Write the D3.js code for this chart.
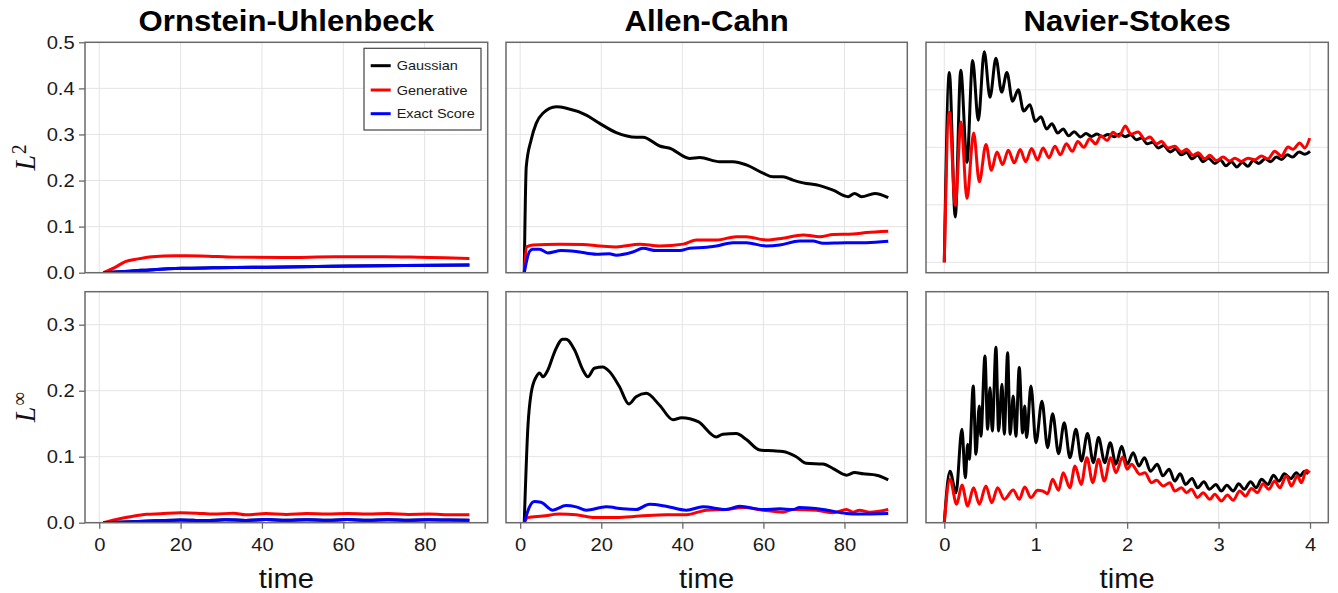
<!DOCTYPE html>
<html><head><meta charset="utf-8">
<script src="https://cdn.jsdelivr.net/npm/d3@7"></script>
<style>
html,body{margin:0;padding:0;background:#fff;}
svg{display:block;}
</style></head><body>
<svg id="chart" width="1338" height="593"></svg>
<script>
// ---------------- DATA ----------------
const columnTitles = ["Ornstein-Uhlenbeck", "Allen-Cahn", "Navier-Stokes"];
const seriesNames = ["Gaussian", "Generative", "Exact Score"];
const seriesColors = ["#000000", "#ff0000", "#0000ff"];
const timeTicksLong = [0, 20, 40, 60, 80];
const timeTicksNS = [0, 1, 2, 3, 4];
const yTicksL2 = [0, 0.1, 0.2, 0.3, 0.4, 0.5];
const yTicksNSL2 = [0, 0.1, 0.2, 0.3];
const yTicksLinf = [0, 0.1, 0.2, 0.3];

// Ornstein-Uhlenbeck, L2
const ouL2GaussT = [1, 5, 8.9, 14, 20.3, 28, 37.6, 50, 62, 75, 91];
const ouL2Gauss  = [0, 0.002, 0.0043, 0.0072, 0.0095, 0.0107, 0.0117, 0.013, 0.0145, 0.0155, 0.0167];
const ouL2GenT = [1, 3.9, 6.4, 9.5, 13, 18.7, 25, 33.5, 45, 58, 70, 78.6, 85, 91];
const ouL2Gen  = [0, 0.0117, 0.024, 0.030, 0.0347, 0.037, 0.0365, 0.0338, 0.033, 0.0345, 0.0345, 0.0335, 0.0325, 0.031];
const ouL2ExactT = [1, 5, 8.9, 14, 20.3, 28, 37.6, 50, 62, 75, 91];
const ouL2Exact  = [0, 0.002, 0.0043, 0.0072, 0.0095, 0.0107, 0.0117, 0.013, 0.0145, 0.0155, 0.0167];

// Ornstein-Uhlenbeck, Linf
const ouLiGaussT = [1, 8, 14, 20, 26, 31, 36, 41, 46, 51, 56, 61, 66, 71, 76, 81, 86, 91];
const ouLiGauss  = [0, 0.0015, 0.0028, 0.0041, 0.0032, 0.0045, 0.0035, 0.0047, 0.0036, 0.0046, 0.0037, 0.0047, 0.0037, 0.0045, 0.0038, 0.0043, 0.0040, 0.0038];
const ouLiGenT = [1, 5, 8, 11.7, 15, 20, 24, 28, 33, 36, 41, 46, 51, 56, 61, 66, 71, 76, 81, 87, 91];
const ouLiGen  = [0, 0.006, 0.0095, 0.0127, 0.0135, 0.015, 0.0145, 0.013, 0.0145, 0.012, 0.0138, 0.0126, 0.0138, 0.013, 0.014, 0.013, 0.014, 0.0126, 0.013, 0.012, 0.012];
const ouLiExactT = [1, 8, 14, 20, 26, 31, 36, 41, 46, 51, 56, 61, 66, 71, 76, 81, 86, 91];
const ouLiExact  = [0, 0.0015, 0.0028, 0.0041, 0.0032, 0.0045, 0.0035, 0.0047, 0.0036, 0.0046, 0.0037, 0.0047, 0.0037, 0.0045, 0.0038, 0.0043, 0.0040, 0.0038];

// Allen-Cahn, L2
const acL2GaussT = [1, 1.5, 2.7, 3.95, 5.6, 8.9, 11.4, 16.3, 19.6, 23.7, 28.6, 30.3, 34.4, 36.9, 41.8, 44.3, 49.2, 52.5, 55.8, 59.9, 62.4, 64.8, 67.3, 69.8, 73.9, 77.2, 80.9, 82.5, 84.2, 87.5, 90.8];
const acL2Gauss  = [0, 0.23, 0.288, 0.324, 0.346, 0.360, 0.357, 0.342, 0.324, 0.304, 0.294, 0.294, 0.275, 0.270, 0.248, 0.250, 0.241, 0.241, 0.234, 0.216, 0.208, 0.208, 0.201, 0.195, 0.189, 0.179, 0.165, 0.172, 0.165, 0.172, 0.163];
const acL2GenT = [1, 1.6, 3.1, 9.7, 15.5, 19.6, 23.7, 29.5, 34.4, 40.2, 43.5, 48.4, 53.3, 55.8, 60.7, 64.8, 69.8, 73.9, 77.2, 82.1, 85.4, 90.8];
const acL2Gen  = [0, 0.056, 0.060, 0.062, 0.061, 0.058, 0.056, 0.062, 0.058, 0.062, 0.071, 0.071, 0.078, 0.078, 0.071, 0.075, 0.082, 0.078, 0.083, 0.084, 0.087, 0.090];
const acL2ExactT = [1, 2.3, 3.1, 4.8, 6.8, 10.1, 13.8, 18.8, 22, 23.7, 27.8, 30.3, 33.6, 39.4, 41.8, 46, 48.4, 52.5, 55.8, 60.7, 64, 68.9, 72.2, 74.7, 80.4, 85.4, 90.8];
const acL2Exact  = [0, 0.046, 0.051, 0.051, 0.043, 0.048, 0.046, 0.040, 0.041, 0.038, 0.045, 0.053, 0.048, 0.048, 0.053, 0.055, 0.058, 0.065, 0.065, 0.058, 0.060, 0.069, 0.069, 0.064, 0.065, 0.065, 0.068];

// Allen-Cahn, Linf
const acLiGaussT = [1, 1.9, 2.7, 3.95, 4.8, 5.6, 6.8, 8.5, 10.5, 11.3, 13.4, 15.5, 16.7, 18.3, 20.4, 22, 24.5, 26.8, 28.6, 31.1, 34.4, 37.7, 39.8, 43.9, 48.4, 50, 53.3, 55.8, 59.1, 62.4, 64.8, 68.1, 70.6, 74.7, 77.2, 80.5, 82.5, 84.6, 87.9, 90.8];
const acLiGauss  = [0, 0.145, 0.196, 0.221, 0.227, 0.221, 0.231, 0.259, 0.278, 0.278, 0.262, 0.231, 0.221, 0.234, 0.236, 0.229, 0.206, 0.180, 0.191, 0.196, 0.178, 0.156, 0.159, 0.153, 0.130, 0.134, 0.135, 0.126, 0.110, 0.109, 0.108, 0.100, 0.090, 0.089, 0.082, 0.072, 0.076, 0.074, 0.072, 0.065];
const acLiGenT = [1, 1.9, 5.6, 9.7, 13.8, 17.9, 23.7, 29.5, 36, 41, 45.9, 50.8, 54.9, 59.9, 64.8, 67.3, 73.1, 77.2, 80.5, 82.1, 83.7, 86.2, 90.8];
const acLiGen  = [0, 0.008, 0.010, 0.013, 0.012, 0.008, 0.008, 0.010, 0.012, 0.012, 0.019, 0.020, 0.023, 0.019, 0.016, 0.020, 0.019, 0.015, 0.020, 0.016, 0.019, 0.016, 0.020];
const acLiExactT = [1, 2.3, 3.5, 5.1, 8, 11.3, 13.8, 16.3, 21.2, 25.3, 28.6, 31.9, 36, 41, 45.1, 50.8, 54.1, 59.9, 64, 67.3, 68.9, 74.7, 80.5, 83.7, 90.8];
const acLiExact  = [0, 0.024, 0.032, 0.031, 0.019, 0.026, 0.024, 0.019, 0.024, 0.021, 0.020, 0.028, 0.025, 0.019, 0.024, 0.020, 0.025, 0.020, 0.021, 0.020, 0.023, 0.020, 0.014, 0.013, 0.014];

// Navier-Stokes, L2
const nsL2GaussT = [0, 0.055, 0.12, 0.18, 0.248, 0.31, 0.372, 0.437, 0.50, 0.565, 0.627, 0.685, 0.747, 0.809, 0.868, 0.937, 0.995, 1.057, 1.119, 1.177, 1.24, 1.30, 1.36, 1.42, 1.49, 1.55, 1.61, 1.67, 1.73, 1.79, 1.86, 1.92, 1.98, 2.04, 2.10, 2.16, 2.22, 2.28, 2.34, 2.40, 2.47, 2.53, 2.59, 2.65, 2.71, 2.77, 2.83, 2.89, 2.96, 3.02, 3.08, 3.14, 3.20, 3.26, 3.32, 3.38, 3.44, 3.51, 3.57, 3.63, 3.69, 3.75, 3.81, 3.88, 3.94, 4.0];
const nsL2Gauss  = [0, 0.330, 0.079, 0.334, 0.174, 0.351, 0.247, 0.366, 0.287, 0.355, 0.296, 0.330, 0.280, 0.300, 0.263, 0.274, 0.245, 0.253, 0.232, 0.241, 0.225, 0.232, 0.220, 0.227, 0.218, 0.224, 0.219, 0.223, 0.2185, 0.2225, 0.2185, 0.223, 0.2185, 0.222, 0.213, 0.216, 0.206, 0.209, 0.199, 0.203, 0.192, 0.197, 0.187, 0.191, 0.180, 0.186, 0.175, 0.181, 0.172, 0.178, 0.168, 0.175, 0.166, 0.174, 0.167, 0.177, 0.172, 0.180, 0.175, 0.183, 0.179, 0.187, 0.183, 0.192, 0.188, 0.193];
const nsL2GenT = [0, 0.055, 0.12, 0.183, 0.248, 0.321, 0.383, 0.456, 0.515, 0.576, 0.638, 0.70, 0.765, 0.83, 0.89, 0.955, 1.02, 1.08, 1.145, 1.21, 1.27, 1.335, 1.40, 1.46, 1.525, 1.59, 1.655, 1.715, 1.78, 1.845, 1.91, 1.98, 2.04, 2.12, 2.193, 2.248, 2.321, 2.376, 2.448, 2.521, 2.594, 2.649, 2.721, 2.776, 2.849, 2.904, 2.976, 3.049, 3.122, 3.177, 3.249, 3.322, 3.395, 3.469, 3.541, 3.614, 3.687, 3.76, 3.814, 3.887, 3.942, 3.997];
const nsL2Gen  = [0, 0.261, 0.099, 0.244, 0.111, 0.225, 0.140, 0.205, 0.160, 0.192, 0.170, 0.195, 0.173, 0.196, 0.175, 0.198, 0.178, 0.199, 0.182, 0.202, 0.187, 0.206, 0.193, 0.210, 0.200, 0.215, 0.206, 0.220, 0.212, 0.226, 0.219, 0.237, 0.223, 0.2266, 0.214, 0.218, 0.206, 0.210, 0.199, 0.2017, 0.192, 0.1965, 0.186, 0.1906, 0.180, 0.186, 0.177, 0.183, 0.176, 0.181, 0.1755, 0.181, 0.1785, 0.185, 0.180, 0.193, 0.185, 0.2005, 0.1965, 0.2075, 0.199, 0.216];

// Navier-Stokes, Linf
const nsLiGaussT = [0, 0.062, 0.128, 0.193, 0.23, 0.256, 0.273, 0.317, 0.346, 0.383, 0.40, 0.445, 0.474, 0.50, 0.525, 0.565, 0.594, 0.631, 0.656, 0.693, 0.72, 0.754, 0.783, 0.82, 0.856, 0.88, 0.90, 0.948, 1.002, 1.068, 1.13, 1.185, 1.25, 1.312, 1.374, 1.44, 1.50, 1.567, 1.63, 1.687, 1.755, 1.815, 1.877, 1.94, 2.0, 2.066, 2.128, 2.19, 2.255, 2.33, 2.39, 2.46, 2.52, 2.58, 2.64, 2.71, 2.77, 2.84, 2.90, 2.97, 3.03, 3.09, 3.16, 3.22, 3.28, 3.35, 3.41, 3.47, 3.54, 3.60, 3.66, 3.72, 3.79, 3.85, 3.89, 3.94, 3.98];
const nsLiGauss  = [0, 0.078, 0.0455, 0.1415, 0.068, 0.119, 0.096, 0.207, 0.1036, 0.177, 0.131, 0.2526, 0.1415, 0.2045, 0.139, 0.266, 0.139, 0.2097, 0.134, 0.2576, 0.134, 0.192, 0.131, 0.235, 0.136, 0.177, 0.129, 0.207, 0.121, 0.184, 0.1137, 0.165, 0.1046, 0.1515, 0.0985, 0.1415, 0.0935, 0.135, 0.091, 0.129, 0.091, 0.121, 0.0885, 0.116, 0.0885, 0.106, 0.086, 0.0985, 0.078, 0.0885, 0.071, 0.081, 0.063, 0.074, 0.058, 0.067, 0.053, 0.062, 0.0506, 0.058, 0.048, 0.0567, 0.048, 0.059, 0.0506, 0.062, 0.053, 0.0657, 0.058, 0.0718, 0.063, 0.074, 0.067, 0.0758, 0.0708, 0.078, 0.074];
const nsLiGenT = [0, 0.062, 0.135, 0.193, 0.255, 0.32, 0.383, 0.455, 0.52, 0.583, 0.656, 0.754, 0.82, 0.88, 0.948, 1.02, 1.075, 1.13, 1.185, 1.25, 1.30, 1.374, 1.43, 1.497, 1.56, 1.624, 1.687, 1.75, 1.82, 1.877, 1.95, 2.0, 2.048, 2.139, 2.194, 2.266, 2.321, 2.394, 2.467, 2.521, 2.594, 2.649, 2.703, 2.769, 2.831, 2.904, 2.958, 3.031, 3.097, 3.159, 3.232, 3.294, 3.36, 3.425, 3.487, 3.55, 3.614, 3.669, 3.742, 3.796, 3.862, 3.906, 3.96, 3.997];
const nsLiGen  = [0, 0.0657, 0.028, 0.057, 0.0253, 0.053, 0.028, 0.0556, 0.0303, 0.053, 0.0354, 0.0495, 0.0354, 0.054, 0.038, 0.049, 0.048, 0.044, 0.0657, 0.049, 0.0758, 0.053, 0.086, 0.058, 0.0985, 0.0606, 0.096, 0.063, 0.0985, 0.0758, 0.0995, 0.081, 0.0885, 0.0733, 0.0758, 0.0606, 0.0642, 0.0556, 0.0606, 0.048, 0.053, 0.0455, 0.0506, 0.038, 0.0455, 0.0354, 0.043, 0.0329, 0.042, 0.034, 0.048, 0.0405, 0.052, 0.0455, 0.059, 0.0506, 0.063, 0.053, 0.0708, 0.0556, 0.0708, 0.0606, 0.0794, 0.0758];

// ---------------- LAYOUT ----------------
const W = 1338, H = 593;
const colX = [[85, 487.7], [506, 907.3], [926, 1328.3]];
const rowY = [[42.3, 272.7], [291.7, 522.7]];
const SX = 1.08;            // horizontal glyph stretch of the reference
const FONT = "'Liberation Sans', Arial, Helvetica, sans-serif";
const SERIF = "'Liberation Serif', 'DejaVu Serif', 'Times New Roman', serif";
const spineColor = "#6a6a6a";
const gridColor = "#e4e4e4";
const LW = 3;

const zip = (t, v) => t.map((d, i) => ({t: d, v: v[i]}));

const panels = [
  {col: 0, row: 0, xDom: [-3.5, 95.5], yDom: [0, 0.5], xTicks: timeTicksLong, yTicks: yTicksL2, showY: true, showX: false,
   series: [[ouL2GaussT, ouL2Gauss, 0], [ouL2GenT, ouL2Gen, 1], [ouL2ExactT, ouL2Exact, 2]]},
  {col: 1, row: 0, xDom: [-3.5, 95.5], yDom: [0, 0.5], xTicks: timeTicksLong, yTicks: yTicksL2, showY: false, showX: false,
   series: [[acL2GaussT, acL2Gauss, 0], [acL2GenT, acL2Gen, 1], [acL2ExactT, acL2Exact, 2]]},
  {col: 2, row: 0, xDom: [-0.2, 4.2], yDom: [-0.018, 0.3826], xTicks: timeTicksNS, yTicks: yTicksNSL2, showY: false, showX: false,
   series: [[nsL2GaussT, nsL2Gauss, 0], [nsL2GenT, nsL2Gen, 1]]},
  {col: 0, row: 1, xDom: [-3.5, 95.5], yDom: [0, 0.35], xTicks: timeTicksLong, yTicks: yTicksLinf, showY: true, showX: true,
   series: [[ouLiGaussT, ouLiGauss, 0], [ouLiGenT, ouLiGen, 1], [ouLiExactT, ouLiExact, 2]]},
  {col: 1, row: 1, xDom: [-3.5, 95.5], yDom: [0, 0.35], xTicks: timeTicksLong, yTicks: yTicksLinf, showY: false, showX: true,
   series: [[acLiGaussT, acLiGauss, 0], [acLiGenT, acLiGen, 1], [acLiExactT, acLiExact, 2]]},
  {col: 2, row: 1, xDom: [-0.2, 4.2], yDom: [0, 0.35], xTicks: timeTicksNS, yTicks: yTicksLinf, showY: false, showX: true,
   series: [[nsLiGaussT, nsLiGauss, 0], [nsLiGenT, nsLiGen, 1]]}
];

const svg = d3.select("#chart");
svg.append("rect").attr("width", W).attr("height", H).attr("fill", "#fff");

function stretchText(sel) {
  sel.each(function() {
    const t = d3.select(this);
    const x = +t.attr("x") || 0;
    t.attr("x", x / SX).attr("transform", `scale(${SX},1)`);
  });
}

panels.forEach((p, pi) => {
  const [x0, x1] = colX[p.col];
  const [y0, y1] = rowY[p.row];
  const x = d3.scaleLinear().domain(p.xDom).range([x0, x1]);
  const y = d3.scaleLinear().domain(p.yDom).range([y1, y0]);
  const g = svg.append("g");

  const cid = "clip" + pi;
  svg.append("clipPath").attr("id", cid).append("rect")
    .attr("x", x0).attr("y", y0).attr("width", x1 - x0).attr("height", y1 - y0);

  // grid
  g.append("g").selectAll("line").data(p.xTicks).join("line")
    .attr("x1", d => x(d)).attr("x2", d => x(d)).attr("y1", y0).attr("y2", y1)
    .attr("stroke", gridColor).attr("stroke-width", 1);
  g.append("g").selectAll("line").data(p.yTicks).join("line")
    .attr("x1", x0).attr("x2", x1).attr("y1", d => y(d)).attr("y2", d => y(d))
    .attr("stroke", gridColor).attr("stroke-width", 1);

  // lines
  const line = d3.line().x(d => x(d.t)).y(d => y(d.v)).curve(d3.curveMonotoneX);
  const lg = g.append("g").attr("clip-path", `url(#${cid})`);
  p.series.forEach(([t, v, si]) => {
    lg.append("path").datum(zip(t, v)).attr("d", line)
      .attr("fill", "none").attr("stroke", seriesColors[si])
      .attr("stroke-width", LW).attr("stroke-linejoin", "round").attr("stroke-linecap", "butt");
  });

  // frame
  g.append("rect").attr("x", x0).attr("y", y0).attr("width", x1 - x0).attr("height", y1 - y0)
    .attr("fill", "none").attr("stroke", spineColor).attr("stroke-width", 1.5);

  if (p.showY) {
    const ax = g.append("g").attr("transform", `translate(${x0},0)`)
      .call(d3.axisLeft(y).tickValues(p.yTicks).tickSize(6).tickPadding(4.3).tickFormat(d3.format(".1f")));
    ax.select(".domain").remove();
    ax.selectAll(".tick line").attr("stroke", spineColor).attr("stroke-width", 1.3);
    ax.selectAll(".tick text").attr("fill", "#1a1a1a").style("font-family", FONT).style("font-size", "18.7px");
    stretchText(ax.selectAll(".tick text"));
  }
  if (p.showX) {
    const ax = g.append("g").attr("transform", `translate(0,${y1})`)
      .call(d3.axisBottom(x).tickValues(p.xTicks).tickSize(6).tickPadding(9).tickFormat(d3.format("d")));
    ax.select(".domain").remove();
    ax.selectAll(".tick line").attr("stroke", spineColor).attr("stroke-width", 1.3);
    ax.selectAll(".tick text").attr("fill", "#1a1a1a").style("font-family", FONT).style("font-size", "18.7px");
    stretchText(ax.selectAll(".tick text"));
    svg.append("text").attr("transform", `translate(${(x0 + x1) / 2},588) scale(${SX},1)`)
      .attr("text-anchor", "middle").style("font-family", FONT).style("font-size", "27px")
      .attr("fill", "#111").text("time");
  }
  if (p.row === 0) {
    svg.append("text").attr("transform", `translate(${(x0 + x1) / 2},30.7) scale(${SX},1)`)
      .attr("text-anchor", "middle").style("font-family", FONT).style("font-size", "28.8px")
      .style("font-weight", "bold").attr("fill", "#000").text(columnTitles[p.col]);
  }
});

// y labels (L^2, L^inf)
function yLabel(cy, sup) {
  const t = svg.append("text").attr("transform", `translate(35,${cy}) scale(${SX},1) rotate(-90)`)
    .attr("text-anchor", "middle").style("font-family", SERIF).style("font-size", "28px").attr("fill", "#111");
  t.append("tspan").style("font-style", "italic").text("L");
  t.append("tspan").attr("dy", "-0.42em").attr("dx", "0.05em").style("font-size", "19px").text(sup);
}
yLabel((rowY[0][0] + rowY[0][1]) / 2, "2");
yLabel((rowY[1][0] + rowY[1][1]) / 2, "\u221E");

// legend
const leg = svg.append("g");
leg.append("rect").attr("x", 364).attr("y", 48.3).attr("width", 117).attr("height", 81.7)
  .attr("fill", "#fff").attr("stroke", "#444").attr("stroke-width", 1.2);
const legY = [65.7, 90, 113.7];
seriesNames.forEach((n, i) => {
  leg.append("line").attr("x1", 370.7).attr("x2", 390.7).attr("y1", legY[i]).attr("y2", legY[i])
    .attr("stroke", seriesColors[i]).attr("stroke-width", LW);
  leg.append("text").attr("transform", `translate(396.7,${legY[i]}) scale(${SX},1)`)
    .attr("dy", "0.35em").style("font-family", FONT).style("font-size", "13.4px").attr("fill", "#1a1a1a").text(n);
});
</script>
</body></html>
